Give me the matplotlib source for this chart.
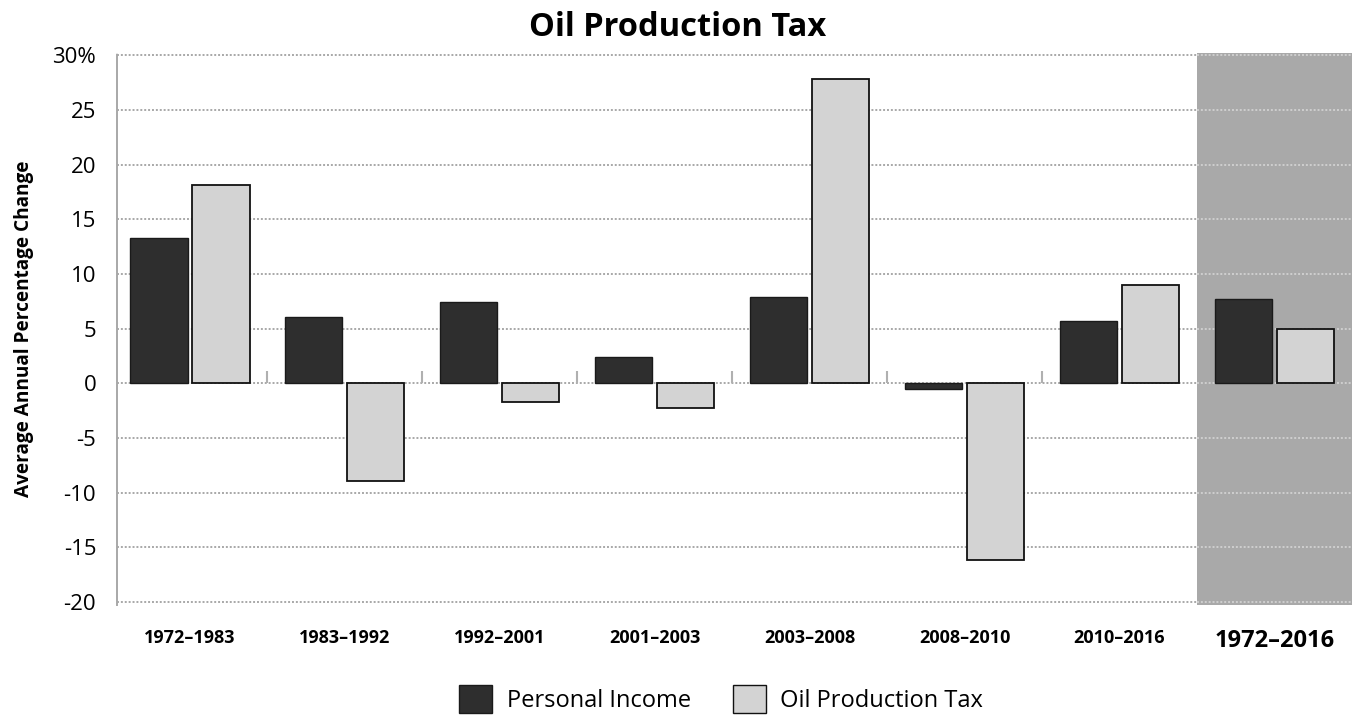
import numpy as np
import matplotlib.pyplot as plt
from matplotlib.patches import Patch

# values (average annual % change)
periods = ['1972–1983', '1983–1992', '1992–2001', '2001–2003',
           '2003–2008', '2008–2010', '2010–2016', '1972–2016']
personal_income = [13.3, 6.1, 7.4, 2.4, 7.9, -0.5, 5.7, 7.7]
oil_tax = [18.1, -8.9, -1.7, -2.3, 27.8, -16.2, 9.0, 5.0]
yticks = [30, 25, 20, 15, 10, 5, 0, -5, -10, -15, -20]
ytick_labels = ['30%', '25', '20', '15', '10', '5', '0', '-5', '-10', '-15', '-20']

plt.rcParams['font.family'] = ['Open Sans', 'DejaVu Sans']

fig = plt.figure(figsize=(13.56, 7.17), dpi=100)
ax = fig.add_axes([0.0863, 0.156, 0.9107, 0.770])

x = np.arange(len(periods))
w = 0.37

# shaded "whole period" column
ax.axvspan(6.5, 7.5, color='#a9a9a9', zorder=0, lw=0)

# dotted gridlines (lighter inside the shaded column)
for y in yticks:
    ax.hlines(y, -0.47, 6.5, colors='#a8a8a8', linestyles=(0, (1, 1)), lw=1.4, zorder=1)
    ax.hlines(y, 6.5, 7.5, colors='#cfcfcf', linestyles=(0, (1, 1)), lw=1.4, zorder=1)

# little boundary ticks on the zero line
ax.vlines(x[:-2] + 0.5, 0, 1.1, colors='#b0b0b0', lw=1.5, zorder=1)

ax.bar(x - 0.2, personal_income, w, color='#2e2e2e', edgecolor='#1a1a1a', lw=1, zorder=3)
ax.bar(x + 0.2, oil_tax, w, color='#d3d3d3', edgecolor='#111111', lw=1.3, zorder=3)

ax.set_xlim(-0.47, 7.5)
ax.set_ylim(-20.3, 30.2)
ax.set_yticks(yticks)
ax.set_yticklabels(ytick_labels, fontsize=16)
ax.set_xticks(x)
ax.set_xticklabels(periods, fontsize=13, fontweight='bold')
ax.get_xticklabels()[-1].set_fontsize(17)
ax.tick_params(axis='y', length=0, pad=15)
ax.tick_params(axis='x', length=0, pad=17)

for s in ['top', 'right']:
    ax.spines[s].set_visible(False)
ax.spines['left'].set_color('#a8a8a8')
ax.spines['left'].set_linestyle((0, (1, 1)))
ax.spines['left'].set_linewidth(1.4)
ax.spines['bottom'].set_visible(False)

ax.set_ylabel('Average Annual Percentage Change', fontsize=13.7, fontweight='bold', labelpad=13)
fig.suptitle('Oil Production Tax', fontsize=23.5, fontweight='bold', x=0.5, y=0.985)

handles = [Patch(facecolor='#2e2e2e', edgecolor='#1a1a1a', label='Personal Income'),
           Patch(facecolor='#d3d3d3', edgecolor='#111111', label='Oil Production Tax')]
fig.legend(handles=handles, loc='center', bbox_to_anchor=(0.532, 0.025), ncol=2,
           frameon=False, fontsize=17, handlelength=1.4, handleheight=1.4,
           columnspacing=1.8, handletextpad=0.6)

fig.savefig('out.png', dpi=100)
